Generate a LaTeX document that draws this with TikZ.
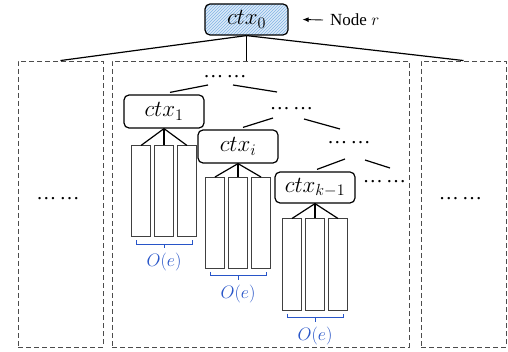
\RequirePackage{fix-cm}
\documentclass[tikz,border=0pt]{standalone}
\usepackage{fontspec}
\setmainfont{Liberation Serif}
\usetikzlibrary{arrows.meta,patterns}

\definecolor{hatchblue}{RGB}{220,234,248}
\definecolor{hatchline}{RGB}{130,180,228}
\definecolor{oblue}{RGB}{40,85,200}

\tikzset{
  ctxbox/.style={draw,rounded corners=5pt,line width=1.2pt,minimum width=80pt,minimum height=33pt,inner sep=0pt,font=\fontsize{23}{26}\selectfont},
  slot/.style={draw=black!75,line width=1pt,minimum width=19pt,minimum height=91pt,inner sep=0pt},
  panel/.style={draw=black!70,dash pattern=on 5pt off 3pt,line width=0.9pt,inner sep=0pt},
  dotsx/.style={font=\fontsize{20}{22}\selectfont,inner sep=0pt,anchor=base},
  link/.style={line width=1.2pt},
  obrace/.style={draw=oblue,line width=1pt},
  olabel/.style={text=oblue,font=\fontsize{18}{21}\selectfont,inner sep=0pt}
}

\begin{document}
\begin{tikzpicture}[x=1pt,y=-1pt]
		\useasboundingbox (0,0) rectangle (508,352);

		% root
		\node[ctxbox,minimum width=83pt,minimum height=31pt,preaction={fill=hatchblue},pattern=north east lines,pattern color=hatchline] (r0) at (246.5,19.5) {$ctx_0$};
		\node[font=\fontsize{17}{20}\selectfont,inner sep=0pt,anchor=west] (rlabel) at (330,20) {Node $r$};
		\draw[-{Latex[length=6pt,width=5pt]},line width=0.9pt] ([xshift=-7pt]rlabel.west) -- ([xshift=14pt]r0.east);

		% dashed panels
		\node[panel,minimum width=85pt,minimum height=286pt] (lb) at (60.5,204) {};
		\node[panel,minimum width=297pt,minimum height=286pt] (mb) at (260.5,204) {};
		\node[panel,minimum width=85pt,minimum height=286pt] (rb) at (463.5,204) {};

		\draw[link] (r0.south) -- (lb.north);
		\draw[link] (r0.south) -- (r0.south |- mb.north);
		\draw[link] (r0.south) -- (rb.north);

		\node[dotsx] (ld) at (58,200) {…\,…};
		\node[dotsx] (rd) at (460.5,200) {…\,…};

		% subtree
		\node[dotsx] (dA) at (225,77.5) {…\,…};
		\node[dotsx] (dB) at (291.5,109.5) {…\,…};
		\node[dotsx] (dC) at (349,143.5) {…\,…};
		\node[dotsx] (dD) at (384.5,183) {…\,…};

		\node[ctxbox] (c1) at (164,111.5) {$ctx_1$};
		\node[ctxbox] (ci) at (238,146.5) {$ctx_i$};
		\node[ctxbox,minimum height=31pt] (ck) at (315,187.5) {$ctx_{k-1}$};

		\draw[link] ([shift={(-17,7.5)}]dA.base) -- ([shift={(6,-2)}]c1.north);
		\draw[link] ([shift={(8,7.5)}]dA.base) -- ([shift={(-14.5,-17.5)}]dB.base);
		\draw[link] ([shift={(-18.5,8.5)}]dB.base) -- ([shift={(5,-2)}]ci.north);
		\draw[link] ([shift={(12.5,9.5)}]dB.base) -- ([shift={(-9,-14.5)}]dC.base);
		\draw[link] ([shift={(-4,15.5)}]dC.base) -- ([shift={(2,-2)}]ck.north);
		\draw[link] ([shift={(16,16.5)}]dC.base) -- ([shift={(5.5,-15)}]dD.base);

		% entity slots
		\foreach \cn/\cx/\cy/\g in {c1/164/191.5/a,ci/238/223/b,ck/315/264.5/c} {
			\foreach \k in {1,2,3} {
				\node[slot] (\g\k) at ({\cx+(\k-2)*23},\cy) {};
				\draw[link] (\cn.south) -- (\g\k.north);
			}
			\draw[obrace] ([shift={(5,3)}]\g1.south west) -- ([shift={(5,7)}]\g1.south west) -- ([shift={(-5,7)}]\g3.south east) -- ([shift={(-5,3)}]\g3.south east);
			\draw[obrace] ([shift={(0,7)}]\g2.south) -- ([shift={(0,11)}]\g2.south);
			\node[olabel] (\g o) at ([shift={(0,25)}]\g2.south) {$O(e)$};
		}

	\end{tikzpicture}
\end{document}
